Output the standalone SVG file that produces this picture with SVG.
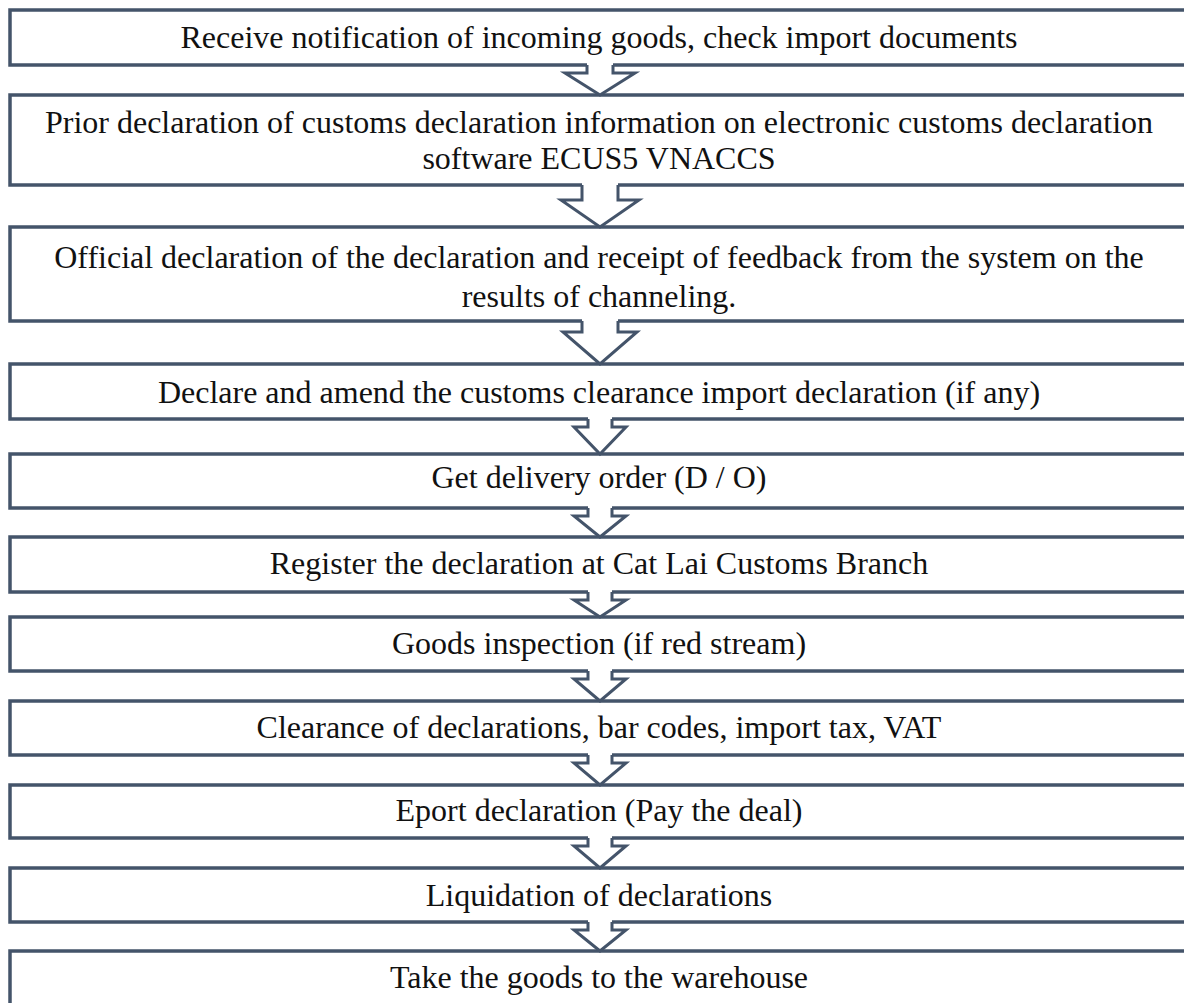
<svg xmlns="http://www.w3.org/2000/svg" width="1184" height="1003" viewBox="0 0 1184 1003">
<style>
.box{fill:#fff;stroke:#44546A;stroke-width:3.5}
.af{fill:#fff;stroke:none}
.as{fill:none;stroke:#44546A;stroke-width:3;stroke-linejoin:miter}
.t{font-family:'Liberation Serif','Times New Roman',serif;font-size:32px;fill:#111;text-anchor:middle}
</style>
<rect width="1184" height="1003" fill="#fff"/>
<g id="n1"><rect class="box" x="10" y="10" width="1185" height="55"/><text class="t" x="599" y="48">Receive notification of incoming goods, check import documents</text></g>
<g id="n2"><rect class="box" x="10" y="95" width="1185" height="90"/><text class="t" x="599" y="133">Prior declaration of customs declaration information on electronic customs declaration</text><text class="t" x="599" y="169">software ECUS5 VNACCS</text></g>
<g id="n3"><rect class="box" x="10" y="227" width="1185" height="94"/><text class="t" x="599" y="268">Official declaration of the declaration and receipt of feedback from the system on the</text><text class="t" x="599" y="307">results of channeling.</text></g>
<g id="n4"><rect class="box" x="10" y="364" width="1185" height="55"/><text class="t" x="599" y="403">Declare and amend the customs clearance import declaration (if any)</text></g>
<g id="n5"><rect class="box" x="10" y="454" width="1185" height="54"/><text class="t" x="599" y="488">Get delivery order (D / O)</text></g>
<g id="n6"><rect class="box" x="10" y="537" width="1185" height="55"/><text class="t" x="599" y="574">Register the declaration at Cat Lai Customs Branch</text></g>
<g id="n7"><rect class="box" x="10" y="617" width="1185" height="54"/><text class="t" x="599" y="654">Goods inspection (if red stream)</text></g>
<g id="n8"><rect class="box" x="10" y="701" width="1185" height="54"/><text class="t" x="599" y="738">Clearance of declarations, bar codes, import tax, VAT</text></g>
<g id="n9"><rect class="box" x="10" y="785" width="1185" height="53"/><text class="t" x="599" y="821">Eport declaration (Pay the deal)</text></g>
<g id="n10"><rect class="box" x="10" y="868" width="1185" height="54"/><text class="t" x="599" y="906">Liquidation of declarations</text></g>
<g id="n11"><rect class="box" x="10" y="951" width="1185" height="60"/><text class="t" x="599" y="988">Take the goods to the warehouse</text></g>
<g id="connectors">
<polygon class="af" points="587,62 587,73 565,73 600,95 635,73 613,73 613,62"/><polyline class="as" points="587,65 587,73 565,73 600,95 635,73 613,73 613,65"/>
<polygon class="af" points="582,182 582,200 561,200 600,227 639,200 618,200 618,182"/><polyline class="as" points="582,185 582,200 561,200 600,227 639,200 618,200 618,185"/>
<polygon class="af" points="582,318 582,332 563,332 600,364 637,332 618,332 618,318"/><polyline class="as" points="582,321 582,332 563,332 600,364 637,332 618,332 618,321"/>
<polygon class="af" points="588,416 588,427 574,427 600,454 626,427 612,427 612,416"/><polyline class="as" points="588,419 588,427 574,427 600,454 626,427 612,427 612,419"/>
<polygon class="af" points="588,505 588,516 574,516 600,537 626,516 612,516 612,505"/><polyline class="as" points="588,508 588,516 574,516 600,537 626,516 612,516 612,508"/>
<polygon class="af" points="588,589 588,600 574,600 600,617 626,600 612,600 612,589"/><polyline class="as" points="588,592 588,600 574,600 600,617 626,600 612,600 612,592"/>
<polygon class="af" points="588,668 588,679 574,679 600,701 626,679 612,679 612,668"/><polyline class="as" points="588,671 588,679 574,679 600,701 626,679 612,679 612,671"/>
<polygon class="af" points="588,752 588,763 574,763 600,785 626,763 612,763 612,752"/><polyline class="as" points="588,755 588,763 574,763 600,785 626,763 612,763 612,755"/>
<polygon class="af" points="588,835 588,846 574,846 600,868 626,846 612,846 612,835"/><polyline class="as" points="588,838 588,846 574,846 600,868 626,846 612,846 612,838"/>
<polygon class="af" points="588,919 588,930 574,930 600,951 626,930 612,930 612,919"/><polyline class="as" points="588,922 588,930 574,930 600,951 626,930 612,930 612,922"/>
</g>
</svg>
